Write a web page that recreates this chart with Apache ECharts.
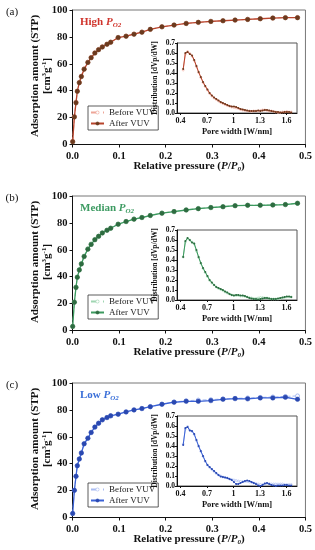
<!DOCTYPE html>
<html><head><meta charset="utf-8">
<script src="https://cdn.jsdelivr.net/npm/echarts@6/dist/echarts.min.js"></script>
<style>html,body{margin:0;padding:0;background:#fff}#c{width:315px;height:550px}</style>
</head><body><div id="c"></div>
<script>
// ---- Isotherm data: relative pressure (P/P0) vs adsorption amount [cm3/g]
const pressure = [0.0004,0.004,0.0075,0.0103,0.0146,0.019,0.025,0.033,0.040,0.048,0.056,0.064,0.074,0.082,0.098,0.115,0.132,0.149,0.167,0.192,0.218,0.244,0.270,0.297,0.323,0.349,0.376,0.403,0.430,0.457,0.483];
const adsHighBefore = [2.5,20.8,31.5,39.8,46.2,50.8,56.2,61.2,64.7,68.1,70.6,72.6,74.6,76.1,79.4,80.6,82.1,83.6,85.6,87.5,88.8,90.0,90.8,91.5,92.0,92.5,93.0,93.5,94.0,94.3,94.4];
const adsHighAfter  = [2.0,20.5,31.0,39.5,46.0,50.5,56.0,61.0,64.5,68.0,70.5,72.5,74.5,76.0,79.5,80.5,82.0,83.5,85.6,87.5,88.8,90.0,90.8,91.5,92.0,92.5,93.0,93.5,94.0,94.3,94.3];
const adsMedBefore  = [3.2,21.2,32.3,39.8,45.3,49.8,55.3,60.7,64.2,67.6,70.1,72.6,74.6,76.1,79.1,81.1,82.9,84.1,85.6,87.3,88.5,89.7,90.7,91.5,92.1,92.8,93.1,93.2,93.4,93.7,94.5];
const adsMedAfter   = [3.0,21.0,32.0,39.5,45.0,49.5,55.0,60.5,64.0,67.5,70.0,72.5,74.5,76.0,79.0,81.0,82.8,84.0,85.5,87.2,88.4,89.6,90.6,91.4,92.0,92.8,93.1,93.1,93.3,93.6,94.6];
const adsLowBefore  = [3.0,20.2,30.6,38.5,43.5,48.0,54.8,59.0,63.2,67.2,70.1,72.6,74.3,75.6,76.8,78.5,80.0,81.0,82.4,84.2,85.9,86.8,87.3,87.6,88.2,88.6,88.9,89.3,89.6,90.0,90.4];
const adsLowAfter   = [3.0,20.2,30.6,38.5,43.5,48.0,54.8,59.0,63.2,67.2,70.1,72.6,74.3,75.6,76.8,78.5,80.0,81.0,82.4,84.2,85.7,86.4,86.4,86.9,87.9,88.4,88.2,88.9,88.9,89.4,87.9];

// ---- Pore size distribution data: pore width [nm] vs dVp/dW
const poreWidth = [0.43,0.455,0.48,0.505,0.53,0.555,0.58,0.605,0.63,0.655,0.68,0.705,0.73,0.755,0.78,0.805,0.83,0.855,0.88,0.905,0.93,0.955,0.98,1.005,1.03,1.055,1.08,1.105,1.13,1.155,1.18,1.205,1.23,1.255,1.28,1.305,1.33,1.355,1.38,1.405,1.43,1.455,1.48,1.505,1.53,1.555,1.58,1.605,1.63,1.655];
const distHighBefore = [0.43,0.59,0.615,0.595,0.57,0.525,0.465,0.405,0.355,0.305,0.265,0.23,0.195,0.17,0.15,0.135,0.12,0.105,0.095,0.085,0.075,0.068,0.06,0.055,0.05,0.045,0.035,0.03,0.025,0.02,0.02,0.015,0.02,0.02,0.02,0.025,0.03,0.03,0.025,0.02,0.02,0.015,0.01,0.005,0.005,0.01,0.01,0.015,0.01,0.01];
const distHighAfter  = [0.44,0.60,0.61,0.59,0.575,0.53,0.47,0.41,0.36,0.31,0.27,0.235,0.20,0.175,0.155,0.14,0.125,0.11,0.10,0.09,0.08,0.07,0.065,0.065,0.06,0.05,0.04,0.035,0.03,0.025,0.02,0.02,0.02,0.02,0.025,0.02,0.025,0.03,0.03,0.025,0.02,0.015,0.01,0.01,0.005,0.005,0.01,0.01,0.01,0.005];
const distMedBefore  = [0.43,0.58,0.615,0.60,0.58,0.56,0.49,0.425,0.365,0.315,0.275,0.235,0.195,0.17,0.15,0.13,0.115,0.105,0.095,0.08,0.07,0.06,0.05,0.045,0.045,0.045,0.04,0.04,0.035,0.03,0.025,0.02,0.015,0.015,0.02,0.025,0.025,0.02,0.02,0.015,0.01,0.01,0.01,0.01,0.015,0.02,0.025,0.03,0.03,0.03];
const distMedAfter   = [0.43,0.59,0.62,0.60,0.575,0.565,0.50,0.43,0.37,0.32,0.28,0.24,0.20,0.175,0.15,0.13,0.12,0.11,0.10,0.085,0.075,0.06,0.05,0.045,0.05,0.05,0.045,0.045,0.04,0.03,0.02,0.015,0.01,0.01,0.005,0.01,0.015,0.02,0.02,0.015,0.01,0.01,0.01,0.015,0.02,0.025,0.03,0.035,0.035,0.03];
const distLowBefore  = [0.42,0.57,0.595,0.56,0.545,0.515,0.455,0.395,0.345,0.295,0.245,0.21,0.185,0.165,0.145,0.125,0.11,0.10,0.09,0.085,0.08,0.07,0.065,0.06,0.055,0.05,0.045,0.045,0.045,0.045,0.04,0.035,0.03,0.025,0.02,0.015,0.015,0.02,0.025,0.025,0.02,0.02,0.02,0.02,0.02,0.02,0.015,0.015,0.015,0.015];
const distLowAfter   = [0.41,0.58,0.59,0.555,0.55,0.52,0.46,0.40,0.35,0.30,0.25,0.21,0.19,0.17,0.15,0.13,0.11,0.095,0.09,0.085,0.08,0.07,0.06,0.04,0.02,0.02,0.03,0.04,0.05,0.055,0.05,0.04,0.03,0.02,0.005,0.0,0.01,0.025,0.03,0.02,0.01,0.005,0.0,0.005,0.005,0.005,0.01,0.01,0.005,0.005];

// ---- Texts
const panelLabels = ['(a)','(b)','(c)'];
const conditionNames = ['High','Median','Low'];
const legendNames = ['Before VUV','After VUV'];
const insetTicks = [0.4,0.7,1,1.3,1.6];

const SERIF = '"Liberation Serif","Times New Roman",serif';
const palettes = [
  {light:'#eea597', line:'#b8442c', dark:'#6b3a1e', text:'#d0342c'},
  {light:'#9fd6b2', line:'#3c9a5f', dark:'#2e6b40', text:'#3d9b62'},
  {light:'#a9bcf2', line:'#3b62d6', dark:'#2a48b0', text:'#3a6fd8'}
];
const mainData = [[adsHighBefore,adsHighAfter],[adsMedBefore,adsMedAfter],[adsLowBefore,adsLowAfter]];
const insetData = [[distHighBefore,distHighAfter],[distMedBefore,distMedAfter],[distLowBefore,distLowAfter]];
const zip = (xs, ys) => xs.map((x,i)=>[x, ys[i]]);

// layout per panel (pixels)
const mainTop = [10, 196, 383];
const insetTop = [43, 230, 416];
const legendTop = [106, 295, 483];

const grids=[], xAxes=[], yAxes=[], series=[], legends=[], graphics=[];
for (let p=0;p<3;p++){
  const pal = palettes[p];
  grids.push({left:72.5, top:mainTop[p], width:233.5, height:134.5, show:true, borderColor:'#777', borderWidth:1, backgroundColor:'transparent'});
  grids.push({left:177, top:insetTop[p], width:120, height:70, show:true, borderColor:'#555', borderWidth:1, backgroundColor:'#fff'});
  const gm = 2*p, gi = 2*p+1;
  xAxes.push({type:'value', gridIndex:gm, min:0, max:0.5, interval:0.1,
    axisLine:{onZero:false, lineStyle:{color:'#111', width:1}}, axisTick:{length:3, lineStyle:{color:'#111'}},
    splitLine:{show:false},
    axisLabel:{margin:6, fontFamily:SERIF, fontWeight:'bold', fontSize:10.5, color:'#111', formatter:v=>v.toFixed(1)}});
  yAxes.push({type:'value', gridIndex:gm, min:0, max:100, interval:20,
    axisLine:{show:true, onZero:false, lineStyle:{color:'#111', width:1}}, axisTick:{show:true, length:3, lineStyle:{color:'#111'}},
    splitLine:{show:false},
    axisLabel:{margin:5, fontFamily:SERIF, fontWeight:'bold', fontSize:10.5, color:'#111'}});
  xAxes.push({type:'value', gridIndex:gi, min:0.36, max:1.72,
    axisLine:{onZero:false, lineStyle:{color:'#111', width:1}}, axisTick:{length:2, customValues:insetTicks, lineStyle:{color:'#111'}},
    splitLine:{show:false},
    axisLabel:{customValues:insetTicks, margin:4, fontFamily:SERIF, fontWeight:'bold', fontSize:8, color:'#111', formatter:v=> (Math.abs(v-1)<1e-9?'1':v.toFixed(1))}});
  yAxes.push({type:'value', gridIndex:gi, min:0, max:0.7, interval:0.1,
    axisLine:{show:true, onZero:false, lineStyle:{color:'#111', width:1}}, axisTick:{show:true, length:2, lineStyle:{color:'#111'}},
    splitLine:{show:false},
    axisLabel:{margin:2, fontFamily:SERIF, fontWeight:'bold', fontSize:7.5, color:'#111', formatter:v=>v.toFixed(1)}});

  const tag = ' '+panelLabels[p];
  series.push({type:'line', name:legendNames[0]+tag, xAxisIndex:gm, yAxisIndex:gm, data:zip(pressure, mainData[p][0]),
    symbol:'circle', symbolSize:4, itemStyle:{color:'#fff', borderColor:pal.light, borderWidth:1},
    lineStyle:{color:pal.light, width:1, type:'dashed'}, z:2});
  series.push({type:'line', name:legendNames[1]+tag, xAxisIndex:gm, yAxisIndex:gm, data:zip(pressure, mainData[p][1]),
    symbol:'circle', symbolSize:4.5, itemStyle:{color:pal.dark, borderColor:pal.dark, borderWidth:0.5},
    lineStyle:{color:pal.line, width:1.3}, z:3});
  series.push({type:'line', name:'inset before'+tag, xAxisIndex:gi, yAxisIndex:gi, data:zip(poreWidth, insetData[p][0]),
    symbol:'circle', symbolSize:2, itemStyle:{color:'#fff', borderColor:pal.light, borderWidth:0.6},
    lineStyle:{color:pal.light, width:1}, z:2});
  series.push({type:'line', name:'inset after'+tag, xAxisIndex:gi, yAxisIndex:gi, data:zip(poreWidth, insetData[p][1]),
    symbol:'circle', symbolSize:2, itemStyle:{color:pal.dark, borderColor:pal.dark, borderWidth:0},
    lineStyle:{color:pal.line, width:1}, z:3});

  legends.push({left:88, top:legendTop[p], orient:'vertical', itemGap:2, padding:[2,3,2,2],
    borderColor:'#333', borderWidth:0.8, backgroundColor:'#fff', itemWidth:13, itemHeight:4,
    data:[legendNames[0]+tag, legendNames[1]+tag], selectedMode:false,
    itemStyle:{borderWidth:0.6},
    formatter:n=>n.replace(/ \(.\)$/,''),
    textStyle:{fontFamily:SERIF, fontSize:9, color:'#222'}});

  const mid = mainTop[p] + 67;
  const imid = insetTop[p] + 35;
  graphics.push({type:'text', x:12, y:mainTop[p]+2, style:{text:panelLabels[p], font:'11px '+SERIF, fill:'#111', align:'center', verticalAlign:'middle'}});
  graphics.push({type:'text', x:80, y:mainTop[p]+12, style:{
    text:'{b|'+conditionNames[p]+' }{i|P}{s|O2}', align:'left', verticalAlign:'middle',
    rich:{b:{fontFamily:SERIF, fontWeight:'bold', fontSize:11, fill:pal.text, lineHeight:14},
          i:{fontFamily:SERIF, fontWeight:'bold', fontStyle:'italic', fontSize:11, fill:pal.text, lineHeight:14},
          s:{fontFamily:SERIF, fontWeight:'bold', fontStyle:'italic', fontSize:7, fill:pal.text, verticalAlign:'bottom', lineHeight:14}}}});
  graphics.push({type:'text', x:41, y:mid-1, rotation:Math.PI/2, style:{
    text:'{t|Adsorption amount (STP)}\n{t|[cm}{p|3}{t|g}{p|-1}{t|]}', align:'center', verticalAlign:'middle',
    rich:{t:{fontFamily:SERIF, fontWeight:'bold', fontSize:11, fill:'#111', lineHeight:12, align:'center'},
          p:{fontFamily:SERIF, fontWeight:'bold', fontSize:7, fill:'#111', lineHeight:12, verticalAlign:'top'}}}});
  graphics.push({type:'text', x:189, y:mainTop[p]+156, style:{
    text:'{b|Relative pressure (}{i|P}{b|/}{i|P}{s|0}{b|)}', align:'center', verticalAlign:'middle',
    rich:{b:{fontFamily:SERIF, fontWeight:'bold', fontSize:11, fill:'#111', lineHeight:14},
          i:{fontFamily:SERIF, fontWeight:'bold', fontStyle:'italic', fontSize:11, fill:'#111', lineHeight:14},
          s:{fontFamily:SERIF, fontWeight:'bold', fontStyle:'italic', fontSize:7, fill:'#111', verticalAlign:'bottom', lineHeight:14}}}});
  graphics.push({type:'text', x:155, y:imid, rotation:Math.PI/2, z:100, style:{
    text:'Distribution [dVp/dW]', font:'bold 7.5px '+SERIF, fill:'#111', align:'center', verticalAlign:'middle'}});
  graphics.push({type:'text', x:237, y:insetTop[p]+89, style:{
    text:'Pore width [W/nm]', font:'bold 8.5px '+SERIF, fill:'#111', align:'center', verticalAlign:'middle'}});
}

const chart = echarts.init(document.getElementById('c'), null, {renderer:'canvas'});
chart.setOption({
  animation:false,
  backgroundColor:'#fff',
  grid:grids, xAxis:xAxes, yAxis:yAxes, series:series, legend:legends, graphic:graphics
});
</script></body></html>
